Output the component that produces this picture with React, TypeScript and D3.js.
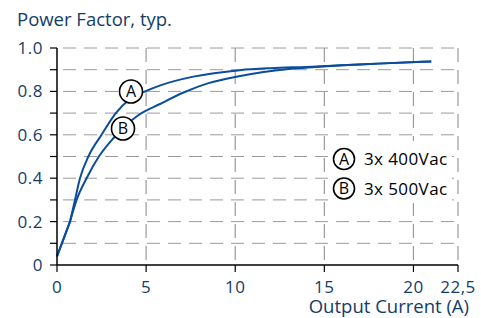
import React from 'react';
import * as d3 from 'd3';

const xTicks = [0, 5, 10, 15, 20, 22.5];
const xTickLabels = ['0', '5', '10', '15', '20', '22,5'];
const yTicks = [0, 0.2, 0.4, 0.6, 0.8, 1.0];
const yTickLabels = ['0', '0.2', '0.4', '0.6', '0.8', '1.0'];
const yGrid = [0.1, 0.2, 0.3, 0.4, 0.5, 0.6, 0.7, 0.8, 0.9, 1.0];

// curve A: 3x 400Vac
const currentA = [0, 0.73, 1.01, 1.29, 1.76, 2.5, 3.3, 4.1, 4.94, 5.8, 7.65, 10.26, 12, 14, 16, 18, 21];
const pfA = [0.04, 0.2, 0.3, 0.4, 0.5, 0.6, 0.7, 0.765, 0.8, 0.828, 0.868, 0.898, 0.907, 0.913, 0.92, 0.928, 0.938];
// curve B: 3x 500Vac
const currentB = [0, 0.73, 1.1, 1.66, 2.35, 3.16, 4.56, 5.78, 7.1, 8.5, 10.2, 11.5, 13, 14.5, 16, 18, 21];
const pfB = [0.04, 0.2, 0.3, 0.4, 0.5, 0.584, 0.69, 0.742, 0.795, 0.838, 0.87, 0.888, 0.903, 0.912, 0.92, 0.928, 0.938];

const legendLabels = ['3x 400Vac', '3x 500Vac'];

const W = 481;
const H = 318;
const textColor = '#143c68';
const lineColor = '#0b4d9c';
const gridColor = '#9a9a9a';
const font = '"Open Sans", "Noto Sans", sans-serif';

export default function App() {
  const x = d3.scaleLinear().domain([0, 22.5]).range([57, 458]);
  const y = d3.scaleLinear().domain([0, 1]).range([265, 48]);

  // straight start segment, then a smooth curve from the knee on
  const curvePath = (xs: number[], ys: number[]) => {
    const pts = xs.map((c, i) => [x(c), y(ys[i])] as [number, number]);
    const smooth = d3.line().curve(d3.curveMonotoneX)(pts.slice(1)) || '';
    return `M${pts[0][0]},${pts[0][1]}L` + smooth.slice(1);
  };

  const Marker = ({ cx, cy, r, label }: { cx: number; cy: number; r: number; label: string }) => (
    <g>
      <circle cx={cx} cy={cy} r={r} fill="#fff" stroke="#000" strokeWidth={1.6} />
      <text x={cx} y={cy + 5.8} textAnchor="middle" fontSize={16} fill="#000" fontFamily={font}>{label}</text>
    </g>
  );

  return (
    <div style={{ position: 'absolute', left: 0, top: 0 }}>
      <svg width={W} height={H} style={{ display: 'block' }}>
        <rect width={W} height={H} fill="#fff" />

        {/* title */}
        <text x={17} y={26} fontSize={18.5} fill={textColor} fontFamily={font}>Power Factor, typ.</text>

        {/* horizontal grid */}
        {yGrid.map(v => (
          <line key={'h' + v} x1={x(0)} x2={x(22.5)} y1={y(v)} y2={y(v)}
            stroke={gridColor} strokeWidth={1} strokeDasharray="13,8" strokeDashoffset={-6} />
        ))}
        {/* vertical grid */}
        {xTicks.slice(1).map(v => (
          <line key={'v' + v} x1={x(v)} x2={x(v)} y1={y(1)} y2={y(0)}
            stroke={gridColor} strokeWidth={1.2} strokeDasharray="14,8" />
        ))}

        {/* legend box */}
        <rect x={330} y={141} width={122} height={62} fill="#fff" />
        {legendLabels.map((lab, i) => (
          <g key={lab}>
            <Marker cx={344} cy={159 + i * 29.5} r={10.5} label={i === 0 ? 'A' : 'B'} />
            <text x={364} y={165 + i * 29.5} fontSize={17} letterSpacing={0.4} fill="#000" fontFamily={font}>{lab}</text>
          </g>
        ))}

        {/* curves */}
        <path d={curvePath(currentB, pfB)} fill="none" stroke={lineColor} strokeWidth={2} />
        <path d={curvePath(currentA, pfA)} fill="none" stroke={lineColor} strokeWidth={2} />

        {/* curve markers */}
        <Marker cx={131} cy={91.5} r={11.5} label="A" />
        <Marker cx={123} cy={128.5} r={11.5} label="B" />

        {/* axes */}
        <line x1={x(0)} x2={x(0)} y1={y(1)} y2={y(0)} stroke="#000" strokeWidth={1.5} />
        <line x1={x(0)} x2={x(22.5)} y1={y(0)} y2={y(0)} stroke="#000" strokeWidth={1.5} />
        {[0, ...yGrid].map(v => (
          <line key={'yt' + v} x1={x(0) - 7} x2={x(0)} y1={y(v)} y2={y(v)} stroke="#000" strokeWidth={1.2} />
        ))}
        {xTicks.map(v => (
          <line key={'xt' + v} x1={x(v)} x2={x(v)} y1={y(0)} y2={y(0) + 7} stroke="#000" strokeWidth={1.2} />
        ))}

        {yTicks.map((v, i) => (
          <text key={'yl' + v} x={43} y={y(v) + 6} textAnchor="end" fontSize={17} letterSpacing={0.5} fill={textColor} fontFamily={font}>{yTickLabels[i]}</text>
        ))}
        {xTicks.map((v, i) => (
          <text key={'xl' + v} x={x(v)} y={292.5} textAnchor="middle" fontSize={17} letterSpacing={0.5} fill={textColor} fontFamily={font}>{xTickLabels[i]}</text>
        ))}

        <text x={469} y={312.5} textAnchor="end" fontSize={18.5} fill={textColor} fontFamily={font}>Output Current (A)</text>
      </svg>
    </div>
  );
}
